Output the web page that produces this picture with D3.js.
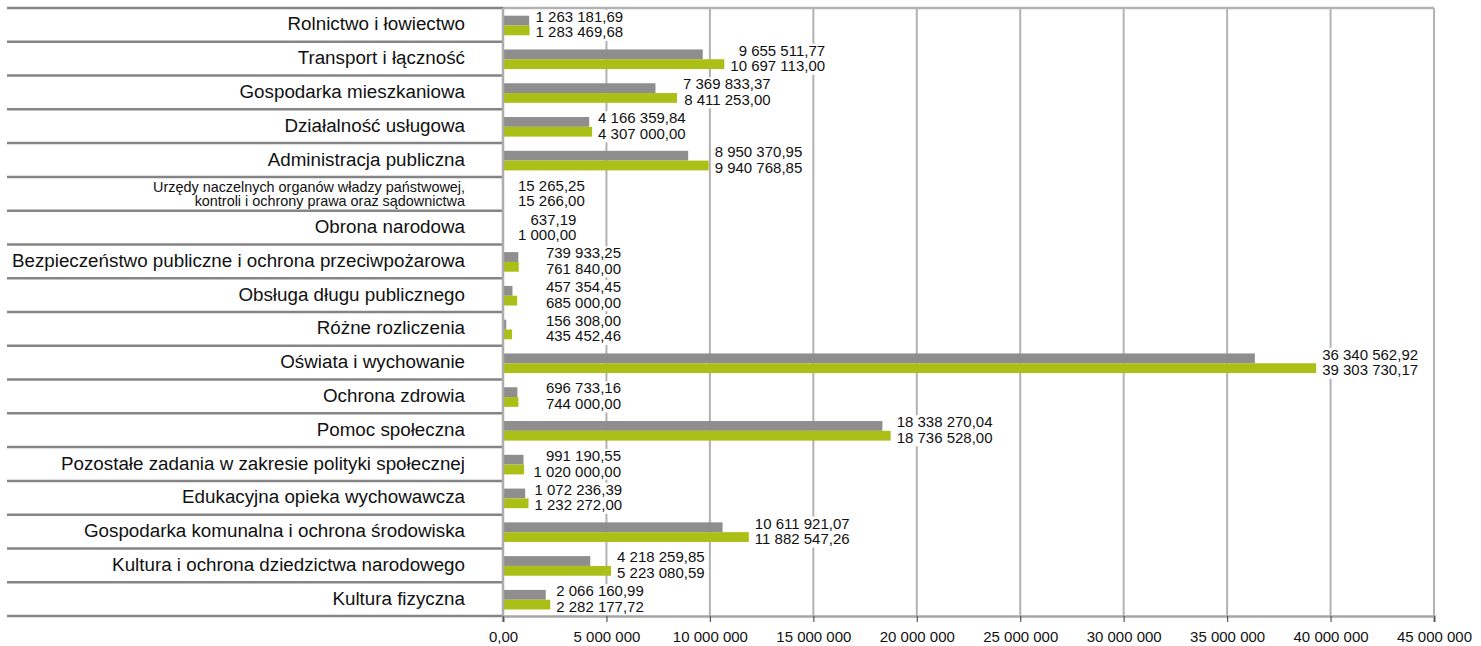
<!DOCTYPE html>
<html>
<head>
<meta charset="utf-8">
<script src="https://cdn.jsdelivr.net/npm/d3@7"></script>
<style>
  body { margin: 0; background: #fff; }
  text { font-family: "Liberation Sans", Arial, sans-serif; fill: #111; }
</style>
</head>
<body>
<svg id="chart"></svg>
<script>
// categories (top to bottom)
const categories = [
    'Rolnictwo i łowiectwo',
    'Transport i łączność',
    'Gospodarka mieszkaniowa',
    'Działalność usługowa',
    'Administracja publiczna',
    'Urzędy naczelnych organów władzy państwowej,|kontroli i ochrony prawa oraz sądownictwa',
    'Obrona narodowa',
    'Bezpieczeństwo publiczne i ochrona przeciwpożarowa',
    'Obsługa długu publicznego',
    'Różne rozliczenia',
    'Oświata i wychowanie',
    'Ochrona zdrowia',
    'Pomoc społeczna',
    'Pozostałe zadania w zakresie polityki społecznej',
    'Edukacyjna opieka wychowawcza',
    'Gospodarka komunalna i ochrona środowiska',
    'Kultura i ochrona dziedzictwa narodowego',
    'Kultura fizyczna'
];

// grey series
const seriesA = [1263181.69, 9655511.77, 7369833.37, 4166359.84, 8950370.95, 15265.25, 637.19,
    739933.25, 457354.45, 156308.00, 36340562.92, 696733.16, 18338270.04, 991190.55,
    1072236.39, 10611921.07, 4218259.85, 2066160.99];

// green series
const seriesB = [1283469.68, 10697113.00, 8411253.00, 4307000.00, 9940768.85, 15266.00, 1000.00,
    761840.00, 685000.00, 435452.46, 39303730.17, 744000.00, 18736528.00, 1020000.00,
    1232272.00, 11882547.26, 5223080.59, 2282177.72];

const xTicks = [0, 5000000, 10000000, 15000000, 20000000, 25000000, 30000000, 35000000, 40000000, 45000000];

const pl = d3.formatLocale({decimal: ',', thousands: ' ', grouping: [3], currency: ['', '']});
const fmtValue = pl.format(',.2f');
const fmtTick = d => d === 0 ? '0,00' : pl.format(',.0f')(d);

const width = 1481, height = 646;
const margin = {top: 8, right: 47, bottom: 30, left: 503};
const innerW = width - margin.left - margin.right;
const innerH = height - margin.top - margin.bottom;

const data = categories.map((c, i) => ({name: c, a: seriesA[i], b: seriesB[i]}));

const svg = d3.select('#chart')
    .attr('width', width)
    .attr('height', height);

const chart = svg.append('g')
    .attr('transform', `translate(${margin.left},${margin.top})`);

const xScale = d3.scaleLinear()
    .domain([0, 45000000])
    .range([0, innerW]);

const yScale = d3.scaleBand()
    .domain(categories)
    .range([0, innerH])
    .paddingInner(0)
    .paddingOuter(0);

const barH = 9.8;

// vertical gridlines
chart.append('g')
    .selectAll('line')
    .data(xTicks.slice(1))
    .join('line')
        .attr('x1', d => xScale(d))
        .attr('x2', d => xScale(d))
        .attr('y1', 0)
        .attr('y2', innerH)
        .attr('stroke', '#b2b2b2')
        .attr('stroke-width', 2);

// top border of plot
chart.append('line')
    .attr('x1', 0).attr('x2', innerW)
    .attr('y1', 0).attr('y2', 0)
    .attr('stroke', '#b2b2b2')
    .attr('stroke-width', 2.5);

// category separators on the left
const seps = d3.range(categories.length + 1).map(i => i * yScale.step());
chart.append('g')
    .selectAll('line')
    .data(seps)
    .join('line')
        .attr('x1', -496)
        .attr('x2', 0)
        .attr('y1', d => d)
        .attr('y2', d => d)
        .attr('stroke', '#858585')
        .attr('stroke-width', 2.5);

// bars
const rows = chart.selectAll('.row')
    .data(data)
    .join('g')
        .attr('class', 'row')
        .attr('transform', d => `translate(0,${yScale(d.name) + yScale.bandwidth() / 2})`);

rows.append('rect')
    .attr('x', 0)
    .attr('y', 0.6 - barH)
    .attr('width', d => xScale(d.a))
    .attr('height', barH)
    .attr('fill', '#8e8e8e');

rows.append('rect')
    .attr('x', 0)
    .attr('y', 0.6)
    .attr('width', d => xScale(d.b))
    .attr('height', barH)
    .attr('fill', '#abbf16');

// value labels: two lines, right aligned together, white box behind
rows.each(function(d) {
    const g = d3.select(this);
    const bg = g.append('rect').attr('fill', '#fff');
    const t = g.append('text')
        .style('font-size', '15px')
        .attr('text-anchor', 'end');
    const l1 = t.append('tspan').attr('y', -3).text(fmtValue(d.a));
    const l2 = t.append('tspan').attr('y', 12.5).text(fmtValue(d.b));
    const w = Math.max(l1.node().getComputedTextLength(), l2.node().getComputedTextLength());
    const barEnd = xScale(Math.max(d.a, d.b));
    let right;
    if (Math.max(d.a, d.b) < 100000) right = 15 + w;
    else right = Math.max(barEnd + 6 + w, 118);
    l1.attr('x', right);
    l2.attr('x', right);
    bg.attr('x', right - w - 1)
        .attr('y', -15)
        .attr('width', w + 3)
        .attr('height', 31);
});

// category labels
rows.each(function(d) {
    const g = d3.select(this);
    const parts = d.name.split('|');
    const t = g.append('text')
        .attr('x', -38)
        .attr('text-anchor', 'end');
    if (parts.length === 1) {
        t.style('font-size', '18.8px')
            .attr('y', -1)
            .attr('dy', '0.35em')
            .text(parts[0]);
    } else {
        t.style('font-size', '14.4px');
        t.append('tspan').attr('x', -38).attr('y', -7).attr('dy', '0.35em').text(parts[0]);
        t.append('tspan').attr('x', -38).attr('y', 7).attr('dy', '0.35em').text(parts[1]);
    }
});

// left axis line
chart.append('line')
    .attr('x1', 0).attr('x2', 0)
    .attr('y1', 0).attr('y2', innerH + 6)
    .attr('stroke', '#adadad')
    .attr('stroke-width', 2.5);

// x axis
const xAxis = d3.axisBottom(xScale)
    .tickValues(xTicks)
    .tickSize(6)
    .tickPadding(9)
    .tickFormat(fmtTick);

const xAxisG = chart.append('g')
    .attr('transform', `translate(0,${innerH})`)
    .call(xAxis);

xAxisG.select('.domain')
    .attr('stroke', '#a6a6a6')
    .attr('stroke-width', 2.5);
xAxisG.selectAll('.tick line')
    .attr('stroke', '#555')
    .attr('stroke-width', 1.2);
xAxisG.selectAll('.tick text')
    .style('font-size', '15px')
    .style('font-family', '"Liberation Sans", Arial, sans-serif')
    .attr('fill', '#111');
</script>
</body>
</html>
